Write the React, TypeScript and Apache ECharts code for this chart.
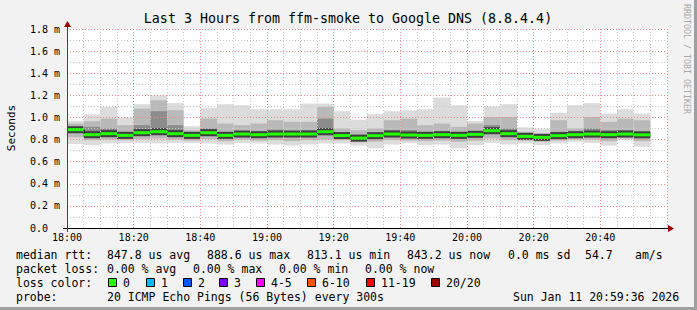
import React, { useEffect, useRef } from "react";
import * as echarts from "echarts";

// 5-minute steps (start of each step)
const times = [
  "18:00", "18:05", "18:10", "18:15", "18:20", "18:25", "18:30", "18:35", "18:40", "18:45",
  "18:50", "18:55", "19:00", "19:05", "19:10", "19:15", "19:20", "19:25", "19:30", "19:35",
  "19:40", "19:45", "19:50", "19:55", "20:00", "20:05", "20:10", "20:15", "20:20", "20:25",
  "20:30", "20:35", "20:40", "20:45", "20:50",
];
// values in milliseconds
const medians = [
  0.889, 0.844, 0.853, 0.838, 0.862, 0.871, 0.853, 0.838, 0.862, 0.838,
  0.850, 0.844, 0.850, 0.850, 0.850, 0.871, 0.836, 0.813, 0.835, 0.850,
  0.841, 0.838, 0.844, 0.838, 0.847, 0.880, 0.853, 0.829, 0.820, 0.835,
  0.844, 0.850, 0.844, 0.850, 0.843,
];
const maxs = [
  0.969, 1.029, 1.095, 1.000, 1.120, 1.200, 1.130, 0.920, 1.086, 1.120,
  1.110, 1.074, 1.074, 1.074, 1.125, 1.125, 1.056, 0.980, 1.030, 1.056,
  1.065, 1.074, 1.180, 1.110, 0.969, 1.100, 1.120, 0.910, 0.900, 1.040,
  1.110, 1.130, 1.035, 1.074, 1.035,
];
const hiMid = [
  0.945, 0.966, 0.990, 0.930, 1.080, 1.155, 1.065, 0.885, 0.990, 0.945,
  0.930, 0.945, 0.975, 0.960, 0.960, 1.095, 0.900, 0.885, 0.900, 0.975,
  0.990, 0.930, 0.945, 0.915, 0.945, 1.005, 1.005, 0.870, 0.855, 0.975,
  0.900, 1.005, 0.960, 0.990, 0.975,
];
const hiIn = [
  0.910, 0.915, 0.900, 0.870, 0.930, 1.056, 0.930, 0.860, 0.900, 0.870,
  0.870, 0.870, 0.890, 0.870, 0.885, 0.990, 0.855, 0.840, 0.855, 0.885,
  0.885, 0.870, 0.870, 0.870, 0.870, 0.930, 0.900, 0.840, 0.825, 0.870,
  0.870, 0.900, 0.885, 0.885, 0.855,
];
const loIn = [
  0.860, 0.820, 0.830, 0.815, 0.840, 0.850, 0.830, 0.815, 0.840, 0.815,
  0.830, 0.820, 0.830, 0.825, 0.830, 0.840, 0.815, 0.795, 0.810, 0.825,
  0.820, 0.820, 0.825, 0.815, 0.825, 0.855, 0.830, 0.810, 0.800, 0.815,
  0.825, 0.830, 0.820, 0.830, 0.820,
];
const loMid = [
  0.820, 0.795, 0.800, 0.795, 0.805, 0.810, 0.800, 0.790, 0.805, 0.785,
  0.800, 0.790, 0.795, 0.785, 0.795, 0.800, 0.795, 0.775, 0.780, 0.795,
  0.790, 0.785, 0.790, 0.780, 0.790, 0.810, 0.795, 0.790, 0.780, 0.790,
  0.800, 0.800, 0.785, 0.810, 0.785,
];
const mins = [
  0.760, 0.750, 0.765, 0.770, 0.770, 0.765, 0.770, 0.770, 0.765, 0.755,
  0.770, 0.765, 0.755, 0.745, 0.755, 0.765, 0.765, 0.745, 0.720, 0.755,
  0.770, 0.750, 0.755, 0.720, 0.750, 0.770, 0.755, 0.765, 0.750, 0.765,
  0.780, 0.770, 0.745, 0.795, 0.735,
];

const yTicks = [0, 0.2, 0.4, 0.6, 0.8, 1.0, 1.2, 1.4, 1.6, 1.8];
const xTickLabels = ["18:00", "18:20", "18:40", "19:00", "19:20", "19:40", "20:00", "20:20", "20:40"];

const legendRows = [
  ["median rtt:", "847.8 us avg", "888.6 us max", "813.1 us min", "843.2 us now", "0.0 ms sd", "54.7", "am/s"],
  ["packet loss:", "0.00 % avg", "0.00 % max", "0.00 % min", "0.00 % now"],
];
const lossLabels = ["0", "1", "2", "3", "4-5", "6-10", "11-19", "20/20"];
const lossColors = ["#26ff00", "#00b8ff", "#0059ff", "#7e00ff", "#ff00ff", "#ff5500", "#ff0000", "#a10000"];
const probeText = "20 ICMP Echo Pings (56 Bytes) every 300s";
const dateText = "Sun Jan 11 20:59:36 2026";
const titleText = "Last 3 Hours from ffm-smoke to Google DNS (8.8.4.4)";

const MONO = "'DejaVu Sans Mono', monospace";
const STEP = 5;

function toMin(t: string) {
  const [h, m] = t.split(":").map(Number);
  return (h - 18) * 60 + m;
}

export default function App() {
  const ref = useRef<HTMLDivElement>(null);
  useEffect(() => {
    if (!ref.current) return;
    const chart = echarts.init(ref.current, null, { renderer: "svg" });

    const data = times.map((t, i) => [
      toMin(t), maxs[i], hiMid[i], hiIn[i], medians[i], loIn[i], loMid[i], mins[i],
      i > 0 ? medians[i - 1] : medians[i],
    ]);

    const geom = (api: any) => {
      const t = api.value(0);
      const x0 = api.coord([t, 0])[0];
      const x1 = api.coord([t + STEP, 0])[0];
      const y = (v: number) => api.coord([t, v])[1];
      return { x0, x1, y };
    };

    const renderSmoke = (params: any, api: any) => {
      const { x0, x1, y } = geom(api);
      const band = (hi: number, lo: number, fill: string) => ({
        type: "rect",
        shape: { x: x0, y: y(hi), width: x1 - x0, height: y(lo) - y(hi) },
        style: { fill },
      });
      const ym = y(api.value(4));
      return {
        type: "group",
        children: [
          band(api.value(1), api.value(7), "#dcdcdc"),
          band(api.value(2), api.value(6), "#b9b9b9"),
          band(api.value(3), api.value(5), "#8c8c8c"),
          { type: "rect", shape: { x: x0, y: ym - 3.5, width: x1 - x0, height: 7 }, style: { fill: "#3e3e3e" } },
        ],
      };
    };

    const renderMedian = (params: any, api: any) => {
      const { x0, x1, y } = geom(api);
      const ym = y(api.value(4));
      const yPrev = y(api.value(8));
      return {
        type: "group",
        children: [
          {
            type: "line",
            shape: { x1: x0 + 0.5, y1: yPrev, x2: x0 + 0.5, y2: ym },
            style: { stroke: "#000", lineWidth: 1 },
          },
          { type: "rect", shape: { x: x0, y: ym - 1.5, width: x1 - x0, height: 3 }, style: { fill: "#22ff00" } },
        ],
      };
    };

    const fmtX = (v: number) => {
      const h = 18 + Math.floor(v / 60);
      const m = v % 60;
      const s = `${h}:${m < 10 ? "0" + m : m}`;
      return xTickLabels.includes(s) ? s : "";
    };
    const fmtY = (v: number) => {
      const r = Math.round(v * 10) / 10;
      if (!yTicks.some((k) => Math.abs(k - r) < 1e-9)) return "";
      return r === 0 ? "0.0" : r.toFixed(1) + " m";
    };

    const gridLineMinor = { show: true, lineStyle: { color: "#c8c8c8", type: [1, 2] as any, width: 1 } };
    const gridLineMajor = { show: true, lineStyle: { color: "#f08c8c", type: [1, 2] as any, width: 1 } };

    const textEl = (text: string, x: number, y: number, extra: any = {}) => ({
      type: "text",
      x,
      y,
      z: 100,
      style: {
        text,
        font: `11.5px ${MONO}`,
        fill: "#000",
        textVerticalAlign: "middle",
        ...extra,
      },
    });

    const legendX1 = [16, 107, 207, 307, 407, 508, 585, 635];
    const legendX2 = [16, 107, 193, 279, 365];
    const boxX = [108, 146, 183, 219, 256, 307, 366, 431];
    const graphics: any[] = [];
    graphics.push({ type: "rect", shape: { x: 694, y: 0, width: 3, height: 310 }, style: { fill: "#9f9f9f" }, z: 100 });
    graphics.push({ type: "rect", shape: { x: 0, y: 307, width: 697, height: 3 }, style: { fill: "#9f9f9f" }, z: 100 });
    graphics.push(textEl(titleText, 348, 18.5, { font: `13.3px ${MONO}`, textAlign: "center" }));
    graphics.push({
      type: "text", x: 11, y: 128, rotation: Math.PI / 2, z: 100,
      style: { text: "Seconds", font: `11px ${MONO}`, fill: "#000", textAlign: "center", textVerticalAlign: "middle" },
    });
    graphics.push({
      type: "text", x: 687, y: 59, rotation: -Math.PI / 2, z: 100,
      style: { text: "RRDTOOL / TOBI OETIKER", font: `8.3px ${MONO}`, fill: "#a8a8a8", textAlign: "center", textVerticalAlign: "middle" },
    });
    graphics.push({ type: "line", z: 100, shape: { x1: 63, y1: 228.5, x2: 669, y2: 228.5 }, style: { stroke: "#000", lineWidth: 1 } });
    graphics.push({ type: "polygon", z: 101, shape: { points: [[668, 225], [674, 228.5], [668, 232]] }, style: { fill: "#a00000" } });
    graphics.push({ type: "line", z: 100, shape: { x1: 67.5, y1: 232, x2: 67.5, y2: 26 }, style: { stroke: "#6b3434", lineWidth: 1 } });
    graphics.push({ type: "polygon", z: 101, shape: { points: [[64, 27], [67.5, 21], [71, 27]] }, style: { fill: "#a00000" } });
    legendRows[0].forEach((s, i) => graphics.push(textEl(s, legendX1[i], 254.5)));
    legendRows[1].forEach((s, i) => graphics.push(textEl(s, legendX2[i], 268.5)));
    graphics.push(textEl("loss color:", 16, 282.5));
    lossLabels.forEach((s, i) => {
      graphics.push({
        type: "rect", z: 100,
        shape: { x: boxX[i] + 0.5, y: 278.5, width: 8, height: 8 },
        style: { fill: lossColors[i], stroke: "#000", lineWidth: 1 },
      });
      graphics.push(textEl(s, boxX[i] + 15, 282.5));
    });
    graphics.push(textEl("probe:", 16, 296.5));
    graphics.push(textEl(probeText, 107, 296.5));
    graphics.push(textEl(dateText, 513, 296.5));

    chart.setOption({
      animation: false,
      backgroundColor: "#f2f2f2",
      grid: {
        left: 67, top: 29, width: 600, height: 199,
        show: true, backgroundColor: "#ffffff", borderWidth: 0, z: 0,
      },
      xAxis: {
        type: "value", min: 0, max: 180, interval: 20, z: 5,
        axisLine: { show: false },
        axisTick: { show: false },
        axisLabel: { formatter: fmtX, margin: 4, fontFamily: MONO, fontSize: 10, color: "#000", showMaxLabel: false },
        splitLine: gridLineMajor,
        minorTick: { show: false, splitNumber: 4 },
        minorSplitLine: gridLineMinor,
      },
      yAxis: {
        type: "value", min: 0, max: 1.8, interval: 0.2, z: 5,
        axisLine: { show: false },
        axisTick: { show: false },
        axisLabel: { formatter: fmtY, margin: 37, align: "left", fontFamily: MONO, fontSize: 10, color: "#000" },
        splitLine: gridLineMajor,
        minorTick: { show: false, splitNumber: 2 },
        minorSplitLine: gridLineMinor,
      },
      series: [
        { type: "custom", z: 1, renderItem: renderSmoke, data, clip: true },
        { type: "custom", z: 10, renderItem: renderMedian, data, clip: true },
      ],
      graphic: graphics,
    });
    return () => chart.dispose();
  }, []);
  return <div ref={ref} style={{ position: "fixed", left: 0, top: 0, width: 697, height: 310 }} />;
}
